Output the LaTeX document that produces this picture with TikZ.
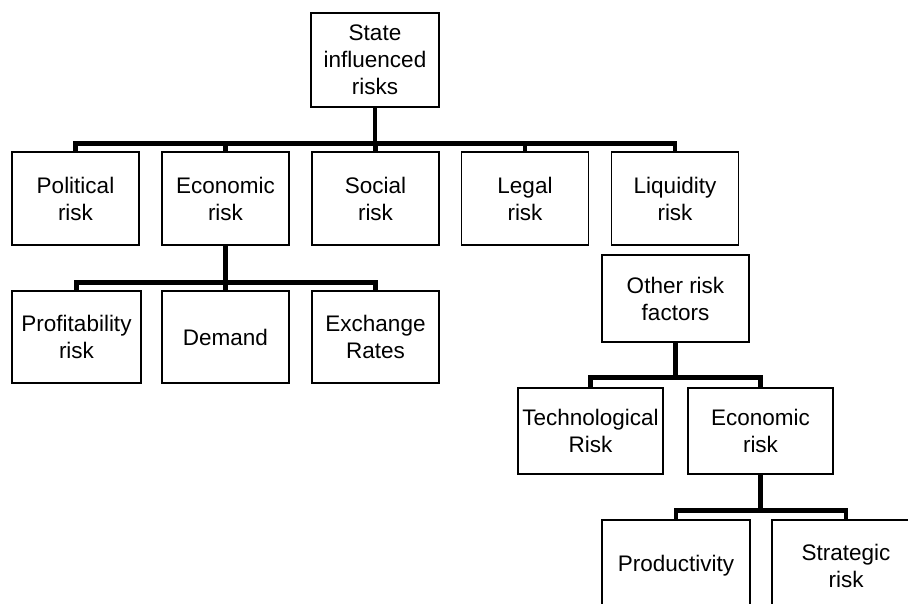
\documentclass[tikz,border=0pt]{standalone}
\usepackage{fontspec}
\setmainfont{Liberation Sans}
\begin{document}
\begin{tikzpicture}[x=1pt,y=-1pt,
  box/.style={draw=black,line width=1.3pt,align=center,inner sep=0pt,
    font=\fontsize{22.5}{27}\selectfont},
  w1/.style={minimum width=127pt,minimum height=93pt},
  link/.style={line width=4.5pt,line join=miter}]
\useasboundingbox (0,0) rectangle (908,603);
\fill[white] (0,0) rectangle (908,603);
\clip (0,0) rectangle (908,603);
% first tree
\node[box,minimum width=128pt,minimum height=94pt] (top) at (375,60) {State\\influenced\\risks};
\node[box,w1] (pol) at (75.5,198.5) {Political\\risk};
\node[box,w1] (eco) at (225.5,198.5) {Economic\\risk};
\node[box,w1] (soc) at (375.5,198.5) {Social\\risk};
\node[box,w1] (leg) at (525,198.5) {Legal\\risk};
\node[box,w1] (liq) at (675,198.5) {Liquidity\\risk};
\node[box,minimum width=129pt,minimum height=92pt] (pro) at (76.5,337) {Profitability\\risk};
\node[box,minimum width=127pt,minimum height=92pt] (dem) at (225.5,337) {Demand};
\node[box,minimum width=127pt,minimum height=92pt] (exc) at (375.5,337) {Exchange\\Rates};
% second tree
\node[box,minimum width=147pt,minimum height=87pt] (oth) at (675.5,298.5) {Other risk\\factors};
\node[box,minimum width=145pt,minimum height=86pt] (tec) at (590.5,431) {Technological\\Risk};
\node[box,minimum width=145pt,minimum height=86pt] (ec2) at (760.5,431) {Economic\\risk};
\node[box,minimum width=148pt,minimum height=92pt] (prd) at (676,566) {Productivity};
\node[box,minimum width=160pt,minimum height=92pt] (str) at (852,566) {};
\node[font=\fontsize{22.5}{27}\selectfont,align=center,inner sep=0pt] (strt) at (846,566) {Strategic\\risk};
% connectors
\foreach \c in {pol,eco,soc,leg,liq}
  \draw[link] (top.south) -- ++(0,36) -| (\c.north);
\foreach \c in {pro,dem,exc}
  \draw[link] (eco.south) -- ++(0,37) -| (\c.north);
\foreach \c in {tec,ec2}
  \draw[link] (oth.south) -- ++(0,35) -| (\c.north);
\draw[link] (ec2.south) -- ++(0,36) -| (prd.north);
\draw[link] (ec2.south) -- ++(0,36) -| (strt.north |- str.north);
\end{tikzpicture}
\end{document}
